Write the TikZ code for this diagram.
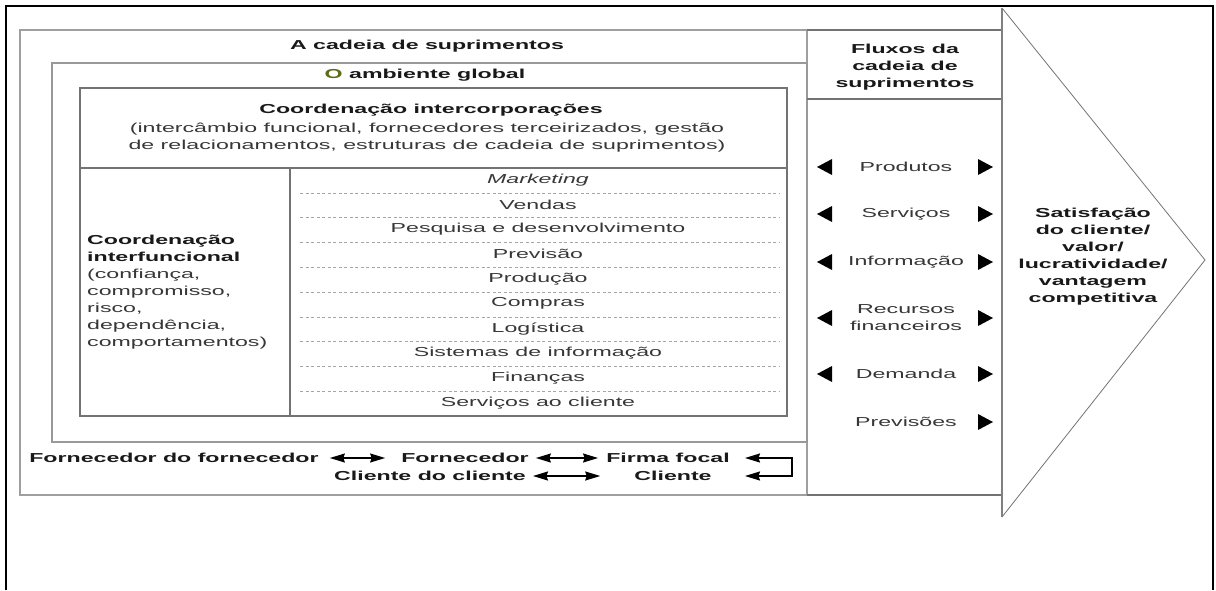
\documentclass[tikz,border=0pt]{standalone}
\usepackage{fontspec}
\setmainfont{Liberation Sans}[FakeStretch=1.78]
\usetikzlibrary{arrows.meta}

\definecolor{linegray}{RGB}{115,115,115}
\definecolor{textgray}{RGB}{55,55,55}
\definecolor{olivo}{RGB}{95,105,25}

\begin{document}
\begin{tikzpicture}[
    x=1pt, y=-1pt,
    every node/.style={font=\fontsize{13}{17}\selectfont, inner sep=2pt},
    box/.style = {draw=linegray, line width=1.2pt},
    title/.style = {font=\fontsize{13}{17}\selectfont\bfseries, text=black!90, align=center},
    item/.style = {text=textgray, align=center},
    sep/.style = {draw=gray!70, dash pattern=on 3pt off 2.5pt, line width=0.6pt},
    link/.style = {line width=1.4pt, {Stealth[length=15pt,width=9pt,inset=1.5pt]}-{Stealth[length=15pt,width=9pt,inset=1.5pt]}}
]
  \useasboundingbox (0,0) rectangle (1216,590);
  \draw[line width=1.6pt] (6,590) -- (6,6) -- (1213,6) -- (1213,590);

  % nested boxes
  \draw[box, draw=gray!75, line width=1.4pt] (20,30) rectangle (807,495);
  \draw[box, draw=gray!80] (52,63) rectangle (807,442);
  \draw[box] (80,88) rectangle (787,416);
  \draw[box] (80,168) -- (787,168);
  \draw[box] (290,168) -- (290,416);
  \foreach \k in {1,...,9}
    \draw[sep] (300,168+24.8*\k) -- (780,168+24.8*\k);

  % flows column and arrow head
  \draw[box] (807,30) -- (1002,30);
  \draw[box] (807,99) -- (1002,99);
  \draw[box] (807,495) -- (1002,495);
  \draw[draw=linegray, line width=0.8pt] (1002,8) -- (1205,260) -- (1002,517);
  \draw[draw=gray, line width=2pt] (1002,8) -- (1002,517);

  \node[title] (cadeia)   at (427,46) {A cadeia de suprimentos};
  \node[title] (ambiente) at (425,75) {\textcolor{olivo}{O} ambiente global};
  \node[title] (intercorp) at (431,110) {Coordenação intercorporações};
  \node[item]  (intersub) at (427,138) {(intercâmbio funcional, fornecedores terceirizados, gestão\\de relacionamentos, estruturas de cadeia de suprimentos)};
  \node[item, anchor=west, align=left] (interfunc) at (85,292)
    {\textcolor{black!90}{\bfseries Coordenação}\\\textcolor{black!90}{\bfseries interfuncional}\\(confiança,\\compromisso,\\risco,\\dependência,\\comportamentos)};

  \foreach \t [count=\i] in {\textit{Marketing}, Vendas, Pesquisa e desenvolvimento, Previsão, Produção, Compras, Logística, Sistemas de informação, Finanças, Serviços ao cliente}
    \node[item] (func\i) at (538,168+24.8*\i-13) {\t};

  \node[title] (fluxos) at (905,67) {Fluxos da\\cadeia de\\suprimentos};
  \foreach \y/\nm/\txt in {167/prod/Produtos, 214/serv/Serviços, 262/info/Informação, 318/recu/{Recursos\\financeiros}, 374/dema/Demanda} {
    \node[item] (\nm) at (906,\y) {\txt};
    \fill (817,\y) -- (832,\y-8) -- (832,\y+8) -- cycle;
    \fill (993,\y) -- (978,\y-8) -- (978,\y+8) -- cycle;
  }
  \node[item] (prev) at (906,422) {Previsões};
  \fill (993,422) -- (978,414) -- (978,430) -- cycle;

  \node[title] (satis) at (1093,257) {Satisfação\\do cliente/\\valor/\\lucratividade/\\vantagem\\competitiva};

  % chain at the bottom
  \node[title] (fornforn) at (174,458) {Fornecedor do fornecedor};
  \node[title] (forn)     at (465,458) {Fornecedor};
  \node[title] (firma)    at (668,458) {Firma focal};
  \node[title] (clicli)   at (430,476) {Cliente do cliente};
  \node[title] (cli)      at (673,476) {Cliente};
  \coordinate (tipA) at (745,458);
  \coordinate (tipB) at (745,476);
  \coordinate (brA) at (792,458);
  \coordinate (brB) at (792,476);

  \draw[link, shorten <=9pt, shorten >=14pt] (fornforn) -- (forn);
  \draw[link, shorten <=5pt, shorten >=6pt] (forn) -- (firma);
  \draw[link, shorten <=5pt, shorten >=32pt] (clicli) -- (cli);
  \draw[link] (tipA) -- (brA) -- (brB) -- (tipB);

\end{tikzpicture}
\end{document}
